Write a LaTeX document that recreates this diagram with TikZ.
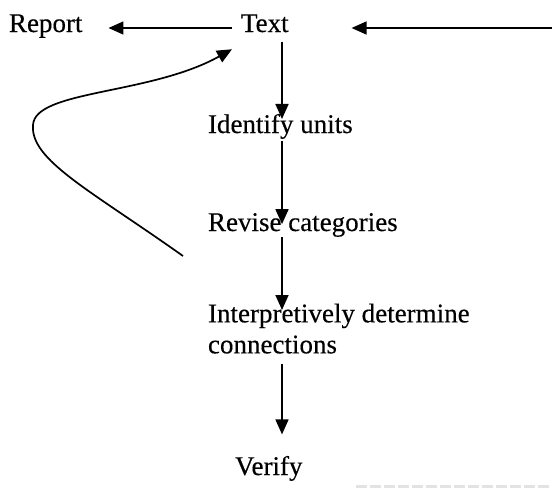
\documentclass[tikz,border=0pt]{standalone}
\usepackage{fontspec}
\setmainfont{Liberation Serif}
\newfontfamily\labelfont[FakeBold=0.35]{Liberation Serif}
\usetikzlibrary{arrows.meta,calc}

\tikzset{
  lbl/.style={inner sep=0pt, outer sep=0pt, anchor=base west,
              font=\labelfont\fontsize{27}{31}\selectfont},
  arr/.style={line width=1.7pt, -{Triangle[length=15pt,width=13pt]}},
  loop/.style={line width=1.7pt, -{Triangle[length=15pt,width=13pt]}},
}

\begin{document}
\begin{tikzpicture}[x=1pt,y=-1pt]
  % page frame
  \useasboundingbox (0,0) rectangle (552,488);

  % labels
  \node[lbl] (rep) at (9,32)  {Report};
  \node[lbl] (txt) at (241,32) {Text};
  \node[lbl] (idu) at (208,133) {Identify units};
  \node[lbl] (rev) at (208,231) {Revise categories};
  \node[lbl, anchor=north west, align=left] (ipd) at (208,303.6)
        {Interpretively determine\\connections};
  \node[lbl] (ver) at (235,475) {Verify};

  % helper coordinates
  \coordinate (rowy)  at (0,28);
  \coordinate (spine) at (282,0);
  \coordinate (src)   at (552,28);
  \coordinate (loopstart) at (183,256);
  \coordinate (loopleft)  at (33,125);

  % top row
  \draw[arr] ($(txt.west |- rowy)+(-9,0)$) -- ($(rep.east |- rowy)+(26,0)$);
  \draw[arr] (src) -- ($(txt.east |- rowy)+(63,0)$);

  % main column
  \draw[arr] ($(txt.south -| spine)+(0,10)$) -- ($(idu.north -| spine)+(0,5)$);
  \draw[arr] ($(idu.south -| spine)+(0,2)$)  -- ($(rev.north -| spine)+(0,11)$);
  \draw[arr] ($(rev.south -| spine)+(0,0)$)  -- ($(ipd.north -| spine)+(0,6.4)$);
  \draw[arr] ($(ipd.south -| spine)+(0,10)$) -- ($(ver.north -| spine)+(0,-21.6)$);

  % feedback loop back to Text
  \draw[loop] (loopstart) .. controls (90,190) and (30,160) .. (loopleft)
              .. controls (35,90) and (150,95) .. ($(txt.south west)+(-9,17)$);

  % faint fragment along the lower edge
  \draw[gray!22, line width=3pt, dash pattern=on 11pt off 3pt]
       (356,486) -- (552,486);
\end{tikzpicture}
\end{document}
